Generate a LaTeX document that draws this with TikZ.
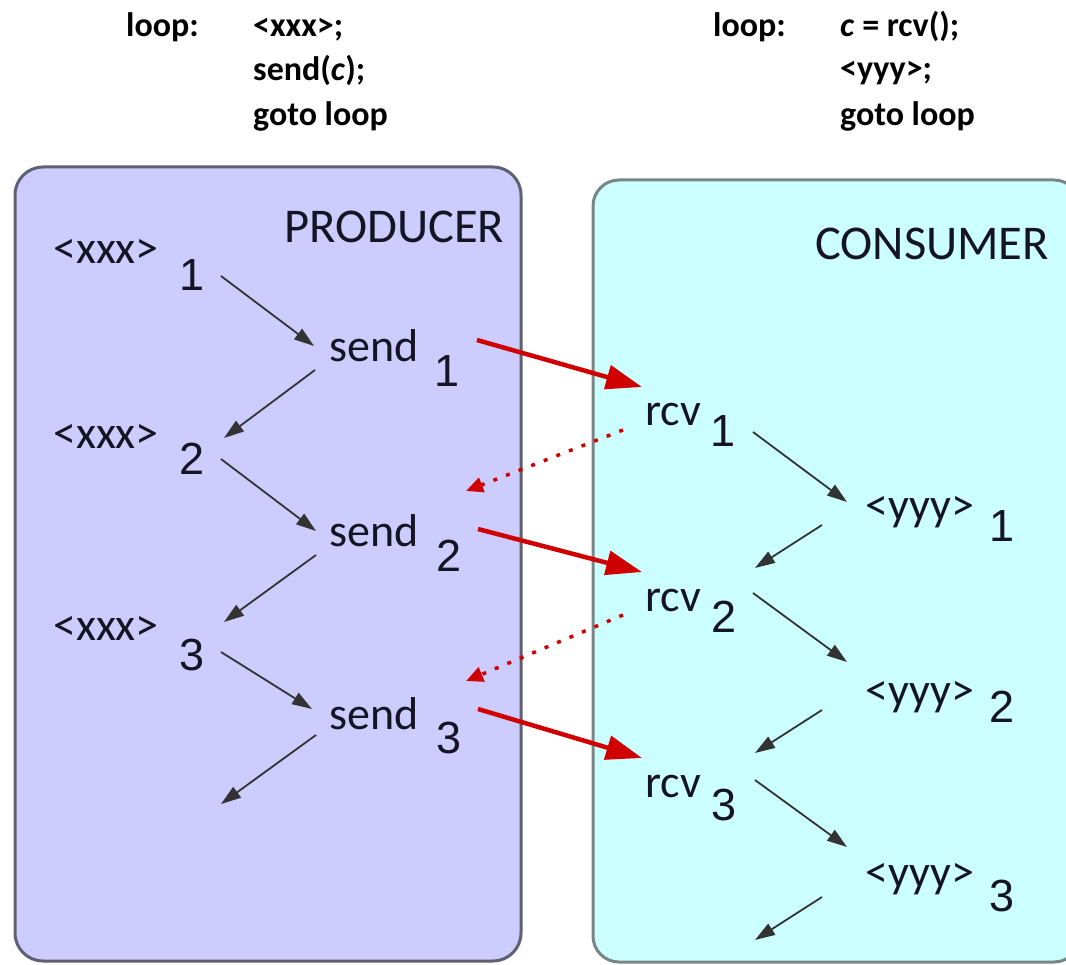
\documentclass[tikz,border=0pt]{standalone}
\usepackage{fontspec}
\setmainfont{Carlito}
\newfontfamily\digitfont{Liberation Sans}
\usetikzlibrary{arrows.meta}

\definecolor{prodfill}{RGB}{204,204,255}
\definecolor{consfill}{RGB}{204,255,255}
\definecolor{prodline}{RGB}{96,96,112}
\definecolor{consline}{RGB}{120,134,134}
\definecolor{msgred}{RGB}{208,0,0}
\definecolor{ink}{RGB}{20,20,35}

\begin{document}
\begin{tikzpicture}[x=1pt,y=-1pt,
  lbl/.style={anchor=base west,inner sep=0pt,text=ink,font=\fontsize{46}{50}\selectfont},
  num/.style={anchor=base,inner sep=0pt,text=ink,font=\digitfont\fontsize{45}{48}\selectfont},
  heading/.style={anchor=base west,inner sep=0pt,text=ink,font=\fontsize{48.5}{52}\selectfont},
  code/.style={anchor=base west,inner sep=0pt,text=black,font=\bfseries\fontsize{34}{36}\selectfont},
  prodbox/.style={fill=prodfill,draw=prodline,line width=3pt,rounded corners=28pt},
  consbox/.style={fill=consfill,draw=consline,line width=3pt,rounded corners=26pt},
  flow/.style={draw=black!80,line width=1.8pt,-{Triangle[length=20pt,width=13pt]}},
  msg/.style={draw=msgred,line width=4.5pt,-{Triangle[length=36pt,width=24pt]}},
  ack/.style={draw=msgred,line width=3.5pt,dash pattern=on 4pt off 9.5pt,
              -{Triangle[length=17pt,width=15pt]}}]

\useasboundingbox (0,0) rectangle (1066,965);

% process code
\node[code] (pc1) at (126,37) {loop:};
\node[code] (pc2) at (253,37) {<xxx>;};
\node[code] (pc3) at (253,81) {send(\textit{c});};
\node[code] (pc4) at (253,126) {goto loop};
\node[code] (cc1) at (713,37) {loop:};
\node[code] (cc2) at (840,37) {\textit{c} = rcv();};
\node[code] (cc3) at (840,80) {<yyy>;};
\node[code] (cc4) at (840,126) {goto loop};

% the two processes
\draw[prodbox] (15,167) rectangle (521,961);
\draw[consbox] (593,180) rectangle (1080,962);

\node[heading] (prod) at (284,243) {PRODUCER};
\node[heading] (cons) at (815,260) {CONSUMER};

% producer steps
\node[lbl] (x1) at (53,264) {<xxx>};
\node[num] (n1) at (192,291) {1};
\node[lbl] (s1) at (329,362) {send};
\node[num] (p1) at (447,387) {1};
\node[lbl] (x2) at (53,449) {<xxx>};
\node[num] (n2) at (192,475) {2};
\node[lbl] (s2) at (329,546) {send};
\node[num] (p2) at (449,571) {2};
\node[lbl] (x3) at (53,640) {<xxx>};
\node[num] (n3) at (192,670) {3};
\node[lbl] (s3) at (329,729) {send};
\node[num] (p3) at (449,753) {3};
\coordinate (pend) at (221,804);

% consumer steps
\node[lbl] (r1) at (645,426) {rcv};
\node[num] (m1) at (723,447) {1};
\node[lbl] (y1) at (865,520) {<yyy>};
\node[num] (k1) at (1002,541) {1};
\node[lbl] (r2) at (645,611) {rcv};
\node[num] (m2) at (724,632) {2};
\node[lbl] (y2) at (865,705) {<yyy>};
\node[num] (k2) at (1002,722) {2};
\node[lbl] (r3) at (645,797) {rcv};
\node[num] (m3) at (724,820) {3};
\node[lbl] (y3) at (865,887) {<yyy>};
\node[num] (k3) at (1002,911) {3};
\coordinate (cend) at (755,940);

% producer control flow
\draw[flow] ([shift={(29,-15)}]n1.base) -- ([shift={(-15,-16)}]s1.base west);
\draw[flow] ([shift={(-14,8)}]s1.base west) -- ([shift={(32,-37)}]n2.base);
\draw[flow] ([shift={(29,-16)}]n2.base) -- ([shift={(-13,-15)}]s2.base west);
\draw[flow] ([shift={(-13,9)}]s2.base west) -- ([shift={(32,-48)}]n3.base);
\draw[flow] ([shift={(29,-18)}]n3.base) -- ([shift={(-17,-20)}]s3.base west);
\draw[flow] ([shift={(-13,6)}]s3.base west) -- (pend);

% consumer control flow
\draw[flow] ([shift={(30,-15)}]m1.base) -- ([shift={(-18,-18)}]y1.base west);
\draw[flow] ([shift={(-43,5)}]y1.base west) -- ([shift={(31,-64)}]m2.base);
\draw[flow] ([shift={(29,-39)}]m2.base) -- ([shift={(-18,-43)}]y2.base west);
\draw[flow] ([shift={(-43,5)}]y2.base west) -- ([shift={(31,-67)}]m3.base);
\draw[flow] ([shift={(31,-40)}]m3.base) -- ([shift={(-18,-40)}]y3.base west);
\draw[flow] ([shift={(-43,10)}]y3.base west) -- (cend);

% messages and acknowledgements
\draw[msg] ([shift={(30,-47)}]p1.base) -- ([shift={(-3,-39)}]r1.base west);
\draw[msg] ([shift={(29,-42)}]p2.base) -- ([shift={(-3,-39)}]r2.base west);
\draw[msg] ([shift={(29,-44)}]p3.base) -- ([shift={(-3,-39)}]r3.base west);
\draw[ack] ([shift={(-22,4)}]r1.base west) -- ([shift={(137,-55)}]s2.base west);
\draw[ack] ([shift={(-22,4)}]r2.base west) -- ([shift={(137,-48)}]s3.base west);
\end{tikzpicture}
\end{document}
